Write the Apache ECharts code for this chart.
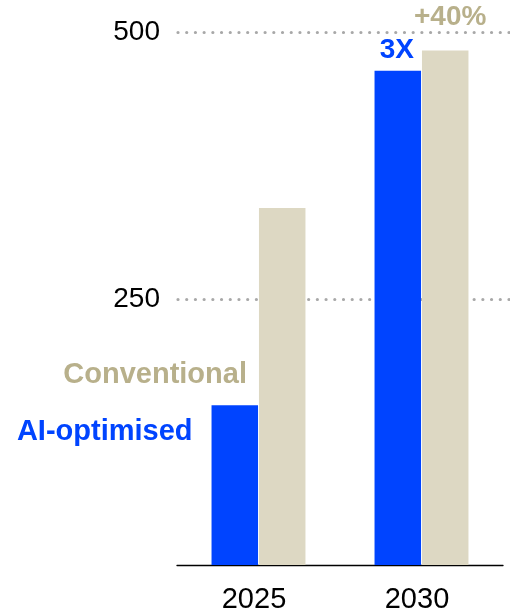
<!DOCTYPE html>
<html>
<head>
<meta charset="utf-8">
<script src="https://cdn.jsdelivr.net/npm/echarts@6/dist/echarts.min.js"></script>
<style>html,body{margin:0;padding:0;background:#fff}#c{width:510px;height:614px}</style>
</head>
<body>
<div id="c"></div>
<script>
var categories = ['2025', '2030'];
var aiOptimised = [150, 464];
var conventional = [335, 483];
var seriesNames = ['AI-optimised', 'Conventional'];
var yTicks = [0, 250, 500];
var growthLabels = ['3X', '+40%'];

var BLUE = '#0044ff';
var BEIGE = '#ddd8c3';
var BEIGE_TXT = '#b8b08b';
var FONT = '"Liberation Sans", Arial, sans-serif';

var chart = echarts.init(document.getElementById('c'), null, {renderer: 'canvas'});

var aiData = aiOptimised.map(function (v, i) {
  var d = {value: v};
  if (i === 0) {
    d.label = {show: true, formatter: seriesNames[0], position: [-19, 27], align: 'right', verticalAlign: 'middle',
      color: BLUE, fontSize: 29, fontWeight: 'bold', fontFamily: FONT};
  } else {
    d.label = {show: true, formatter: growthLabels[0], position: 'top', distance: 6, offset: [-1, 0],
      color: BLUE, fontSize: 28, fontWeight: 'bold', fontFamily: FONT};
  }
  return d;
});
var convData = conventional.map(function (v, i) {
  var d = {value: v};
  if (i === 0) {
    d.label = {show: true, formatter: seriesNames[1], position: [-12, 167], align: 'right', verticalAlign: 'middle',
      color: BEIGE_TXT, fontSize: 29, fontWeight: 'bold', fontFamily: FONT};
  } else {
    d.label = {show: true, formatter: growthLabels[1], position: 'top', distance: 19, offset: [5, 0],
      color: BEIGE_TXT, fontSize: 28, fontWeight: 'bold', fontFamily: FONT};
  }
  return d;
});

chart.setOption({
  animation: false,
  backgroundColor: '#fff',
  grid: [
    {left: 178, right: 0, top: 32.3, bottom: 47.5},
    {left: 177, right: 7, top: 32.3, bottom: 47.5}
  ],
  xAxis: [
    {type: 'category', gridIndex: 0, data: categories, show: false},
    {type: 'category', gridIndex: 1, data: categories,
      axisLine: {show: true, lineStyle: {color: '#000', width: 1.3}},
      axisTick: {show: false},
      axisLabel: {color: '#000', fontSize: 29, fontFamily: FONT, margin: 20, padding: [0, 9, 0, 0]}}
  ],
  yAxis: [
    {type: 'value', gridIndex: 0, min: yTicks[0], max: yTicks[2], interval: yTicks[1] - yTicks[0],
      axisLine: {show: false}, axisTick: {show: false},
      axisLabel: {color: '#000', fontSize: 28, fontFamily: FONT, margin: 18,
        formatter: function (v) { return v === 0 ? '' : String(v); }},
      splitLine: {show: true, showMinLine: false, lineStyle: {color: '#a8a8a8', width: 3.2, type: [0.01, 8.7], cap: 'round'}}},
    {type: 'value', gridIndex: 1, min: yTicks[0], max: yTicks[2], interval: yTicks[1] - yTicks[0], show: false,
      splitLine: {show: false}}
  ],
  series: [
    {name: seriesNames[0], type: 'bar', xAxisIndex: 1, yAxisIndex: 1, data: aiData,
      barWidth: 46.5, barGap: '2%', itemStyle: {color: BLUE}},
    {name: seriesNames[1], type: 'bar', xAxisIndex: 1, yAxisIndex: 1, data: convData,
      barWidth: 46.5, barGap: '2%', itemStyle: {color: BEIGE}}
  ]
});
</script>
</body>
</html>
